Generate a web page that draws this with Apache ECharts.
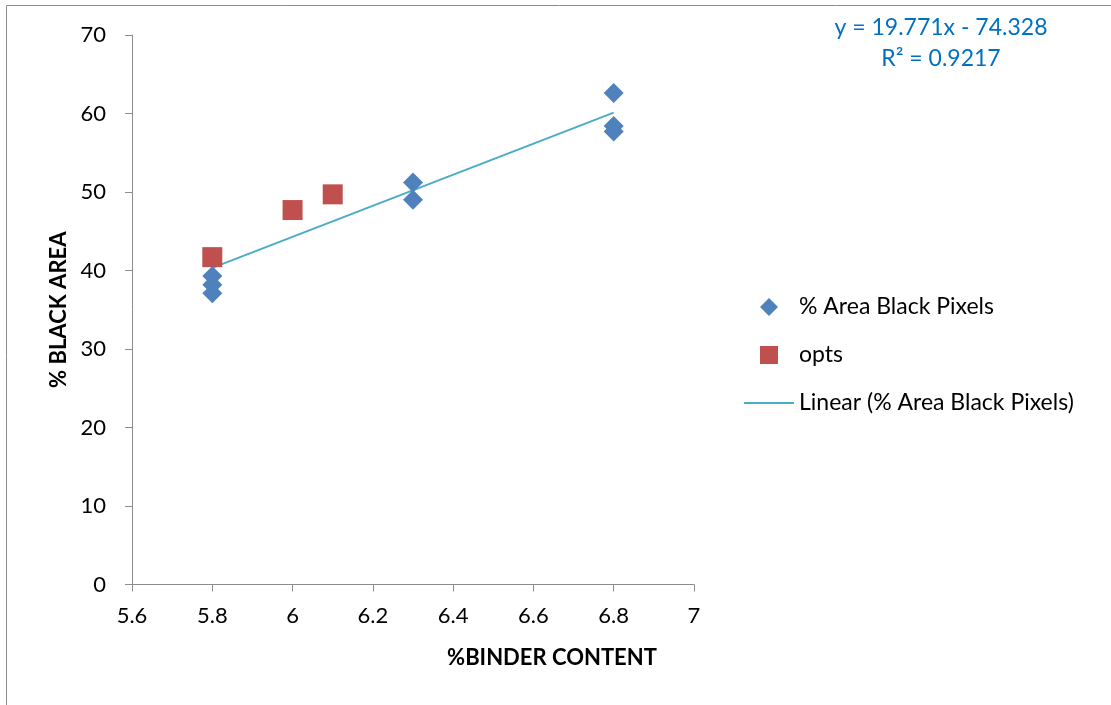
<!DOCTYPE html>
<html>
<head>
<meta charset="utf-8">
<script src="https://cdn.jsdelivr.net/npm/echarts@6/dist/echarts.min.js"></script>
<style>
html,body{margin:0;padding:0;background:#fff;}
#chart{width:1111px;height:705px;}
</style>
</head>
<body>
<div id="chart"></div>
<script>
// ---- data ----
const blackX = [5.8, 5.8, 5.8, 6.3, 6.3, 6.8, 6.8, 6.8];
const blackY = [39.3, 38.2, 37.1, 51.2, 49.0, 62.6, 58.4, 57.7];
const optsX = [5.8, 6.0, 6.1];
const optsY = [41.7, 47.7, 49.7];
const trendX = [5.8, 6.8];
const trendY = [40.34, 60.11];
const seriesNames = ['% Area Black Pixels', 'opts', 'Linear (% Area Black Pixels)'];
const equationLines = ['y = 19.771x - 74.328', 'R² = 0.9217'];
const xTitle = '%BINDER CONTENT';
const yTitle = '% BLACK AREA';

const FONT = 'Lato';
const zip = (a, b) => a.map((v, i) => [v, b[i]]);
const legendText = { fontSize: 23, color: '#000', fontFamily: FONT, lineHeight: 24 };

const chart = echarts.init(document.getElementById('chart'));
chart.setOption({
  animation: false,
  backgroundColor: '#fff',
  textStyle: { fontFamily: FONT },
  grid: { left: 132, right: 417, top: 35, bottom: 120.5, containLabel: false },
  xAxis: {
    type: 'value', min: 5.6, max: 7, interval: 0.2,
    axisLine: { show: true, onZero: false, lineStyle: { color: '#8c8c8c', width: 1 } },
    axisTick: { show: true, length: 7, lineStyle: { color: '#8c8c8c' } },
    axisLabel: { color: '#000', fontSize: 22, fontFamily: FONT, margin: 20,
      formatter: v => String(Math.round(v * 10) / 10) },
    splitLine: { show: false }
  },
  yAxis: {
    type: 'value', min: 0, max: 70, interval: 10,
    name: yTitle, nameLocation: 'middle', nameGap: 62, nameRotate: 90,
    nameTextStyle: { fontSize: 22, fontWeight: 'bold', color: '#000', fontFamily: FONT },
    axisLine: { show: true, onZero: false, lineStyle: { color: '#8c8c8c', width: 1 } },
    axisTick: { show: true, length: 7, lineStyle: { color: '#8c8c8c' } },
    axisLabel: { color: '#000', fontSize: 22, fontFamily: FONT, margin: 26 },
    splitLine: { show: false }
  },
  legend: [
    {
      orient: 'vertical', left: 760, top: 295, padding: 0,
      itemWidth: 18, itemHeight: 18, itemGap: 24,
      textStyle: Object.assign({ padding: [0, 0, 0, 16] }, legendText),
      data: [
        { name: seriesNames[0], icon: 'diamond' },
        { name: seriesNames[1], icon: 'rect' }
      ]
    },
    {
      orient: 'vertical', left: 743, top: 391, padding: 0,
      itemWidth: 50, itemHeight: 18,
      textStyle: legendText,
      data: [
        { name: seriesNames[2], itemStyle: { opacity: 0 } }
      ]
    }
  ],
  graphic: [
    { type: 'rect', silent: true, shape: { x: 6.5, y: 5.5, width: 1300, height: 900 },
      style: { fill: 'none', stroke: '#8c8c8c', lineWidth: 1 } },
    { type: 'text', x: 552, y: 658, silent: true,
      style: { text: xTitle, fill: '#000', font: 'bold 22px ' + FONT, textAlign: 'center', textVerticalAlign: 'middle' } },
    { type: 'text', x: 941, y: 28, silent: true,
      style: { text: equationLines[0], fill: '#0070C0', font: '23px ' + FONT, textAlign: 'center', textVerticalAlign: 'middle' } },
    { type: 'text', x: 941, y: 59, silent: true,
      style: { text: equationLines[1], fill: '#0070C0', font: '23px ' + FONT, textAlign: 'center', textVerticalAlign: 'middle' } }
  ],
  series: [
    {
      name: seriesNames[2], type: 'line', data: zip(trendX, trendY),
      showSymbol: false, symbol: 'none', z: 1,
      lineStyle: { color: '#4BACC6', width: 2 }, itemStyle: { color: '#4BACC6' }
    },
    {
      name: seriesNames[0], type: 'scatter', data: zip(blackX, blackY),
      symbol: 'diamond', symbolSize: 20, z: 3,
      itemStyle: { color: '#4F81BD', opacity: 1 }
    },
    {
      name: seriesNames[1], type: 'scatter', data: zip(optsX, optsY),
      symbol: 'rect', symbolSize: 20, z: 2,
      itemStyle: { color: '#C0504D', opacity: 1 }
    }
  ]
});
</script>
</body>
</html>
